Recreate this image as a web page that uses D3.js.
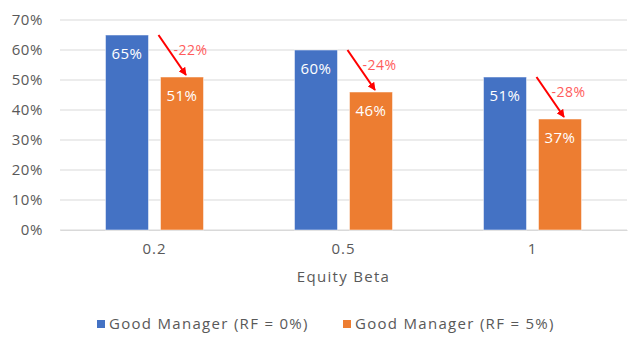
<!DOCTYPE html>
<html>
<head>
<meta charset="utf-8">
<script src="https://cdn.jsdelivr.net/npm/d3@7"></script>
<style>
  body { margin: 0; background: #fff; }
  text { font-family: "Open Sans", "Noto Sans", sans-serif; }
</style>
</head>
<body>
<script>
const categories = ["0.2", "0.5", "1"];
const seriesNames = ["Good Manager (RF = 0%)", "Good Manager (RF = 5%)"];
const rf0 = [65, 60, 51];
const rf5 = [51, 46, 37];
const changes = ["-22%", "-24%", "-28%"];
const yTicks = [0, 10, 20, 30, 40, 50, 60, 70];

const colors = ["#4472C4", "#ED7D31"];
const width = 640, height = 340;
const margin = {top: 20, right: 13, bottom: 110, left: 60};
const plotW = width - margin.left - margin.right;
const plotH = height - margin.top - margin.bottom;

const data = categories.map((c, i) => ({cat: c, values: [rf0[i], rf5[i]], change: changes[i]}));

let svg = d3.select("body")
            .append("svg")
            .attr("width", width)
            .attr("height", height)
            .append("g")
            .attr("transform", "translate(" + margin.left + "," + margin.top + ")");

let x0 = d3.scaleBand().domain(categories).range([0, plotW]).padding(0);
let x1 = d3.scaleBand().domain([0, 1]).range([0, x0.bandwidth()])
           .paddingInner(0.218).paddingOuter(0.827);
let y = d3.scaleLinear().domain([0, 70]).range([plotH, 0]);

// gridlines
svg.selectAll(".grid")
   .data(yTicks)
   .enter()
   .append("line")
   .attr("x1", 0)
   .attr("x2", plotW)
   .attr("y1", d => y(d))
   .attr("y2", d => y(d))
   .attr("stroke", "#d9d9d9")
   .attr("stroke-width", 1);

// y axis labels
let yAxis = svg.append("g")
   .call(d3.axisLeft(y).tickValues(yTicks).tickFormat(d => d + "%").tickSize(0).tickPadding(17));
yAxis.select(".domain").remove();
yAxis.selectAll("text").attr("fill", "#595959").style("font-size", "15px").style("letter-spacing", "0.6px");

// x axis labels
let xAxis = svg.append("g")
   .attr("transform", "translate(0," + plotH + ")")
   .call(d3.axisBottom(x0).tickSize(0).tickPadding(13));
xAxis.select(".domain").attr("stroke", "#d9d9d9");
xAxis.selectAll("text").attr("fill", "#595959").style("font-size", "15px").style("letter-spacing", "1px");

// axis title
svg.append("text")
   .attr("x", plotW / 2)
   .attr("y", plotH + 52)
   .attr("text-anchor", "middle")
   .attr("fill", "#595959")
   .style("font-size", "15px")
   .style("letter-spacing", "1.3px")
   .text("Equity Beta");

// bars
let groups = svg.selectAll(".group")
   .data(data)
   .enter()
   .append("g")
   .attr("transform", d => "translate(" + x0(d.cat) + ",0)");

groups.selectAll("rect")
   .data(d => d.values.map((v, i) => ({i: i, v: v})))
   .enter()
   .append("rect")
   .attr("x", d => x1(d.i))
   .attr("y", d => y(d.v))
   .attr("width", x1.bandwidth())
   .attr("height", d => plotH - y(d.v))
   .attr("fill", d => colors[d.i])
   .attr("stroke", "#ffffff")
   .attr("stroke-opacity", 0.5)
   .attr("stroke-width", 1);

groups.selectAll(".val")
   .data(d => d.values.map((v, i) => ({i: i, v: v})))
   .enter()
   .append("text")
   .attr("x", d => x1(d.i) + x1.bandwidth() / 2)
   .attr("y", d => y(d.v) + 24)
   .attr("text-anchor", "middle")
   .attr("fill", "#ffffff")
   .style("font-size", "15px")
   .style("letter-spacing", "0.5px")
   .text(d => d.v + "%");

// arrows
svg.append("defs").append("marker")
   .attr("id", "head")
   .attr("viewBox", "0 0 10 10")
   .attr("refX", 9)
   .attr("refY", 5)
   .attr("markerWidth", 4)
   .attr("markerHeight", 4)
   .attr("orient", "auto")
   .append("path")
   .attr("d", "M0,0L10,5L0,10z")
   .attr("fill", "#FF0000");

groups.append("line")
   .attr("x1", d => x1(0) + x1.bandwidth() + 10)
   .attr("y1", d => y(d.values[0]))
   .attr("x2", d => x1(1) + x1.bandwidth() / 2 + 4)
   .attr("y2", d => y(d.values[1]) - 2)
   .attr("stroke", "#FF0000")
   .attr("stroke-width", 2)
   .attr("marker-end", "url(#head)");

groups.append("text")
   .attr("x", d => x1(1) + 13)
   .attr("y", d => (y(d.values[0]) + y(d.values[1])) / 2 - 1)
   .attr("fill", "#FF5B5B")
   .style("font-size", "14px")
   .style("letter-spacing", "0.5px")
   .text(d => d.change);

// legend
let legend = d3.select("svg").append("g")
   .attr("transform", "translate(0," + 324 + ")");
const legendX = [97, 343];
seriesNames.forEach((name, i) => {
  legend.append("rect")
     .attr("x", legendX[i])
     .attr("y", -4)
     .attr("width", 8)
     .attr("height", 8)
     .attr("fill", colors[i]);
  legend.append("text")
     .attr("x", legendX[i] + 12)
     .attr("y", 0)
     .attr("dy", "0.35em")
     .attr("fill", "#595959")
     .style("font-size", "15px")
     .style("letter-spacing", "1.3px")
     .text(name);
});
</script>
</body>
</html>
